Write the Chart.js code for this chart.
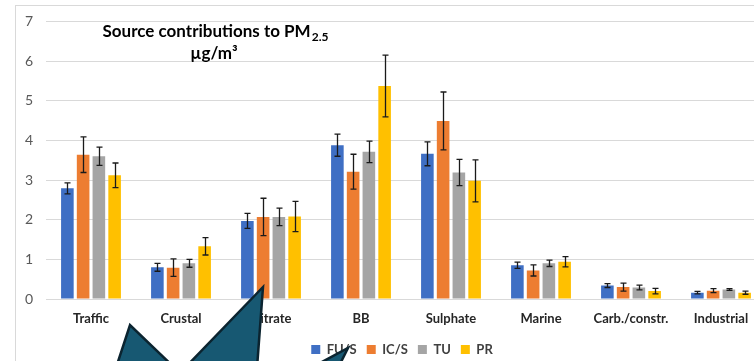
<!DOCTYPE html>
<html>
<head>
<meta charset="utf-8">
<script src="https://cdn.jsdelivr.net/npm/chart.js@4/dist/chart.umd.min.js"></script>
<style>
  html, body { margin: 0; padding: 0; background: #fff; overflow: hidden; }
  #wrap { position: absolute; left: 0; top: 0; width: 766px; height: 361px; }
</style>
</head>
<body>
<div id="wrap"><canvas id="chart" width="766" height="361"></canvas></div>
<script>
// data
const categories = ['Traffic', 'Crustal', 'Nitrate', 'BB', 'Sulphate', 'Marine', 'Carb./constr.', 'Industrial'];
const seriesNames = ['FU/S', 'IC/S', 'TU', 'PR'];
const seriesColors = ['#3F6FC4', '#ED7D31', '#A5A5A5', '#FFC000'];
const fuS = [2.79, 0.80, 1.97, 3.88, 3.66, 0.85, 0.34, 0.16];
const fuSErr = [0.14, 0.10, 0.19, 0.28, 0.30, 0.08, 0.05, 0.03];
const icS = [3.64, 0.79, 2.07, 3.21, 4.49, 0.72, 0.30, 0.21];
const icSErr = [0.45, 0.22, 0.47, 0.44, 0.73, 0.14, 0.10, 0.05];
const tu = [3.60, 0.90, 2.07, 3.71, 3.19, 0.90, 0.29, 0.24];
const tuErr = [0.23, 0.10, 0.22, 0.27, 0.33, 0.08, 0.06, 0.02];
const pr = [3.12, 1.33, 2.08, 5.37, 2.98, 0.94, 0.20, 0.16];
const prErr = [0.31, 0.22, 0.38, 0.78, 0.53, 0.13, 0.07, 0.04];
const yTicks = [0, 1, 2, 3, 4, 5, 6, 7];

const values = [fuS, icS, tu, pr];
const errors = [fuSErr, icSErr, tuErr, prErr];
const FONT = 'Lato, "Open Sans", sans-serif';

// outer frame of the figure
const framePlugin = {
    id: 'frame',
    beforeDraw(chart) {
        const ctx = chart.ctx;
        ctx.save();
        ctx.fillStyle = '#fff';
        ctx.fillRect(0, 0, chart.width, chart.height);
        ctx.strokeStyle = '#d9d9d9';
        ctx.lineWidth = 1;
        ctx.strokeRect(15.5, 5.5, chart.width + 20, chart.height + 20);
        ctx.restore();
    }
};

// nudge the legend to where it sits in the picture
const legendShift = {
    id: 'legendShift',
    afterLayout(chart) {
        const lg = chart.legend;
        lg.left += 19; lg.right += 19;
        lg.top += 5; lg.bottom += 5;
    }
};

const errorBars = {
    id: 'errorBars',
    afterDatasetsDraw(chart) {
        const ctx = chart.ctx;
        const y = chart.scales.y;
        ctx.save();
        ctx.strokeStyle = '#1a1a1a';
        ctx.lineWidth = 1.3;
        chart.data.datasets.forEach((ds, i) => {
            chart.getDatasetMeta(i).data.forEach((bar, j) => {
                const v = values[i][j], e = errors[i][j];
                const top = y.getPixelForValue(v + e);
                const bot = y.getPixelForValue(v - e);
                const x = Math.round(bar.x) + 0.5;
                ctx.beginPath();
                ctx.moveTo(x, top); ctx.lineTo(x, bot);
                ctx.moveTo(x - 3, top); ctx.lineTo(x + 3, top);
                ctx.moveTo(x - 3, bot); ctx.lineTo(x + 3, bot);
                ctx.stroke();
            });
        });
        ctx.restore();
    }
};

const titleText = {
    id: 'titleText',
    afterDraw(chart) {
        const ctx = chart.ctx;
        ctx.save();
        ctx.fillStyle = '#000';
        ctx.textBaseline = 'alphabetic';
        const main = 'Source contributions to PM';
        ctx.font = 'bold 17px ' + FONT;
        const w1 = ctx.measureText(main).width;
        ctx.font = 'bold 12px ' + FONT;
        const w2 = ctx.measureText('2.5').width;
        const x0 = 215 - (w1 + w2) / 2;
        ctx.font = 'bold 17px ' + FONT;
        ctx.fillText(main, x0, 37);
        ctx.font = 'bold 12px ' + FONT;
        ctx.fillText('2.5', x0 + w1 + 1, 41);
        ctx.font = 'bold 17px ' + FONT;
        ctx.textAlign = 'center';
        ctx.fillText('\u00b5g/m\u00b3', 214, 59);
        ctx.restore();
    }
};

// the dark arrow shape pasted over the bottom of the figure
const overlay = {
    id: 'overlay',
    afterDraw(chart) {
        const ctx = chart.ctx;
        ctx.save();
        ctx.beginPath();
        ctx.moveTo(112, 380);
        ctx.lineTo(130, 325);
        ctx.lineTo(180, 373);
        ctx.lineTo(263, 287);
        ctx.lineTo(257, 368);
        ctx.lineTo(320, 363);
        ctx.lineTo(348, 348);
        ctx.lineTo(336, 372);
        ctx.lineTo(330, 390);
        ctx.lineTo(112, 390);
        ctx.closePath();
        ctx.fillStyle = '#175872';
        ctx.fill();
        ctx.strokeStyle = '#0b2430';
        ctx.lineWidth = 2.5;
        ctx.lineJoin = 'miter';
        ctx.stroke();
        ctx.restore();
    }
};

const chart = new Chart(document.getElementById('chart').getContext('2d'), {
    type: 'bar',
    data: {
        labels: categories,
        datasets: seriesNames.map((name, i) => ({
            label: name,
            data: values[i],
            backgroundColor: seriesColors[i],
            borderWidth: 0,
            categoryPercentage: 0.7,
            barPercentage: 0.8
        }))
    },
    options: {
        responsive: false,
        animation: false,
        layout: { padding: { top: 15, left: 0, right: 0, bottom: 0 } },
        plugins: {
            tooltip: { enabled: false },
            legend: {
                position: 'bottom',
                labels: {
                    boxWidth: 9,
                    boxHeight: 9,
                    padding: 10,
                    color: '#404040',
                    font: { family: FONT, size: 13, weight: 'bold' }
                }
            }
        },
        scales: {
            x: {
                grid: { display: false },
                border: { display: false },
                ticks: {
                    color: '#262626',
                    padding: 4,
                    font: { family: FONT, size: 13, weight: 'bold' }
                },
                afterFit: (s) => { s.height = 29; }
            },
            y: {
                min: 0,
                max: 7,
                afterBuildTicks: (s) => { s.ticks = yTicks.map(v => ({ value: v })); },
                grid: { color: '#d9d9d9', drawTicks: false },
                border: { display: false },
                ticks: {
                    color: '#595959',
                    padding: 13,
                    font: { family: FONT, size: 14 }
                },
                afterFit: (s) => { s.width = 46; }
            }
        }
    },
    plugins: [framePlugin, legendShift, errorBars, titleText, overlay]
});
</script>
</body>
</html>
